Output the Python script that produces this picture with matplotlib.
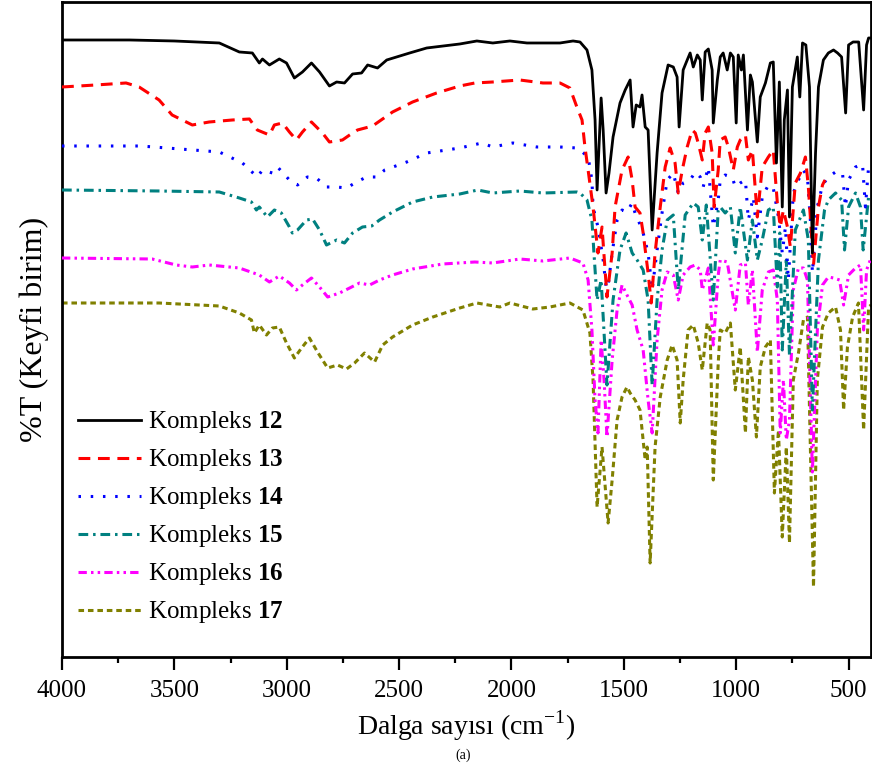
import matplotlib
matplotlib.use("Agg")
import matplotlib.pyplot as plt

plt.rcParams['font.family'] = ['Liberation Serif', 'DejaVu Serif']
plt.rcParams['mathtext.fontset'] = 'custom'
plt.rcParams['mathtext.rm'] = 'Liberation Serif'
plt.rcParams['mathtext.bf'] = 'Liberation Serif:bold'
plt.rcParams['lines.scale_dashes'] = False

# IR spectra, offset %T in arbitrary units
wn12 = [4000, 3700, 3500, 3300, 3211, 3153, 3122, 3108, 3077, 3033, 3001, 2966, 2930, 2890,
        2854, 2810, 2778, 2743, 2707, 2667, 2640, 2596, 2555, 2453, 2377, 2230, 2154, 2083,
        2007, 1931, 1784, 1726, 1695, 1664, 1642, 1628, 1619, 1601, 1592, 1579, 1566, 1548,
        1517, 1494, 1472, 1459, 1445, 1428, 1419, 1405, 1392, 1374, 1352, 1330, 1303, 1280,
        1263, 1254, 1236, 1218, 1205, 1191, 1173, 1160, 1151, 1138, 1124, 1107, 1102, 1084,
        1071, 1058, 1040, 1026, 1013, 1000, 991, 977, 968, 950, 937, 928, 906, 893, 870, 848,
        835, 821, 808, 795, 786, 772, 763, 750, 728, 717, 705, 690, 674, 661, 647, 634, 612,
        590, 567, 549, 531, 513, 500, 480, 455, 433, 420, 411, 400]
t12 = [617, 617, 616, 614, 605, 604, 594, 598, 592, 598, 594, 579, 585, 594,
       585, 571, 575, 574, 583, 584, 592, 589, 597, 604, 609, 613, 616, 614,
       616, 614, 614, 616, 615, 607, 587, 537, 467, 559, 527, 464, 484, 520,
       554, 567, 577, 530, 552, 550, 562, 530, 527, 427, 504, 564, 592, 590,
       580, 530, 587, 597, 604, 590, 602, 597, 557, 605, 608, 587, 534, 577,
       600, 604, 587, 604, 600, 534, 602, 587, 602, 527, 582, 575, 515, 560, 574, 594,
       595, 494, 575, 450, 537, 567, 440, 570, 600, 560, 614, 612, 570, 404, 504, 570, 597,
       604, 607, 604, 600, 544, 612, 615, 615, 547, 612, 619, 619]

wn13 = [4000, 3850, 3715, 3657, 3568, 3510, 3420, 3345, 3242, 3166, 3131, 3077, 3055, 3019,
        2988, 2957, 2930, 2890, 2841, 2810, 2752, 2720, 2685, 2618, 2529, 2440, 2333, 2230,
        2163, 2083, 1963, 1860, 1784, 1740, 1709, 1686, 1673, 1659, 1637, 1615, 1597, 1575,
        1552, 1539, 1508, 1481, 1463, 1450, 1428, 1414, 1392, 1378, 1361, 1338, 1316, 1294,
        1272, 1258, 1240, 1218, 1196, 1182, 1169, 1151, 1138, 1124, 1107, 1098, 1080, 1071,
        1049, 1035, 1013, 995, 982, 959, 946, 928, 906, 884, 857, 835, 817, 804, 790, 772,
        759, 737, 714, 692, 679, 656, 634, 616, 605]
t13 = [570, 572, 574, 570, 557, 542, 532, 535, 537, 538, 527, 522, 532, 534,
       525, 517, 525, 535, 524, 515, 517, 522, 527, 531, 545, 555, 564, 571,
       574, 575, 577, 574, 574, 569, 550, 537, 510, 487, 450, 404, 430, 360,
       404, 450, 487, 500, 477, 450, 444, 424, 384, 354, 404, 450, 490, 509,
       494, 464, 487, 510, 527, 524, 514, 497, 524, 530, 504, 450, 487, 517,
       520, 510, 487, 510, 517, 522, 497, 507, 440, 490, 500, 507, 454, 430, 447, 430,
       410, 474, 484, 500, 470, 392, 450, 472, 477]

wn14 = [4000, 3650, 3300, 3197, 3131, 3108, 3064, 3041, 2988, 2952, 2908, 2868, 2823, 2778,
        2734, 2689, 2645, 2600, 2564, 2466, 2377, 2230, 2132, 2083, 1994, 1887, 1784, 1709,
        1695, 1659, 1642, 1637, 1615, 1592, 1575, 1552, 1530, 1508, 1486, 1463, 1450, 1436,
        1414, 1392, 1374, 1352, 1330, 1307, 1280, 1258, 1236, 1205, 1182, 1160, 1147, 1124,
        1102, 1080, 1071, 1049, 1018, 1004, 982, 959, 946, 924, 906, 884, 857, 835, 812, 795,
        781, 768, 746, 723, 701, 683, 670, 661, 639, 616, 590, 558, 527, 514, 500, 469, 438,
        425, 411, 400]
t14 = [511, 511, 505, 494, 480, 487, 484, 490, 477, 472, 480, 479, 470, 470,
       469, 475, 480, 480, 487, 495, 504, 509, 514, 510, 514, 510, 510, 509,
       507, 500, 477, 450, 430, 397, 362, 404, 437, 447, 445, 454, 444, 437,
       424, 404, 367, 407, 444, 477, 484, 464, 474, 477, 485, 480, 470, 490,
       430, 457, 477, 482, 480, 470, 474, 477, 437, 460, 420, 460, 472, 469, 440, 404,
       430, 377, 464, 477, 487, 480, 437, 384, 450, 472, 480, 485, 484, 450, 477, 490, 493,
       450, 490, 492]

wn15 = [4000, 3568, 3300, 3211, 3157, 3135, 3122, 3086, 3055, 3024, 2988, 2975, 2952, 2912,
        2885, 2854, 2823, 2778, 2743, 2707, 2663, 2622, 2587, 2529, 2440, 2350, 2230, 2150,
        2083, 1963, 1860, 1709, 1695, 1664, 1642, 1633, 1619, 1601, 1575, 1548, 1517, 1490,
        1463, 1441, 1414, 1392, 1374, 1352, 1330, 1307, 1280, 1258, 1227, 1191, 1169, 1151,
        1133, 1102, 1080, 1071, 1049, 1026, 1004, 982, 950, 928, 906, 884, 857, 835, 817, 806,
        795, 777, 763, 737, 701, 679, 661, 634, 607, 590, 558, 531, 518, 500, 469, 447, 435,
        411, 400]
t15 = [467, 466, 465, 459, 455, 447, 450, 440, 447, 444, 430, 424, 427, 437,
       438, 427, 412, 417, 414, 424, 430, 431, 437, 445, 455, 460, 463, 467,
       464, 466, 464, 465, 464, 457, 437, 404, 357, 377, 272, 357, 407, 424,
       404, 397, 387, 357, 272, 357, 407, 437, 442, 367, 442, 454, 450, 417,
       452, 357, 447, 450, 444, 450, 404, 450, 397, 437, 397, 417, 447, 450, 370, 424,
       307, 397, 302, 427, 447, 417, 247, 397, 447, 457, 464, 457, 407, 450, 464, 450, 407,
       460, 462]

wn16 = [4000, 3599, 3492, 3420, 3345, 3211, 3122, 3077, 3033, 2988, 2957, 2930, 2890, 2854,
        2818, 2765, 2720, 2676, 2631, 2587, 2529, 2440, 2306, 2163, 2083, 1963, 1860, 1740,
        1682, 1659, 1642, 1628, 1615, 1601, 1588, 1575, 1552, 1530, 1508, 1486, 1463, 1441,
        1414, 1392, 1374, 1352, 1330, 1307, 1280, 1258, 1236, 1205, 1182, 1160, 1151, 1124,
        1102, 1080, 1071, 1040, 1004, 982, 959, 946, 928, 906, 884, 857, 835, 817, 804, 790,
        777, 763, 746, 723, 701, 683, 661, 639, 616, 590, 567, 540, 522, 500, 469, 447, 433,
        420, 400]
t16 = [399, 398, 392, 390, 392, 389, 382, 375, 381, 374, 367, 372, 379, 370,
       360, 364, 369, 374, 372, 377, 382, 388, 393, 395, 394, 398, 396, 399,
       394, 377, 327, 257, 224, 317, 277, 220, 297, 347, 372, 362, 352, 327,
       307, 257, 224, 317, 367, 385, 382, 357, 382, 390, 392, 387, 367, 389,
       312, 382, 397, 395, 347, 392, 394, 352, 387, 305, 367, 385, 387, 357, 224, 277,
       217, 237, 367, 389, 389, 377, 185, 327, 372, 380, 379, 377, 352, 382, 389, 392, 327,
       387, 399]

wn17 = [4000, 3568, 3300, 3211, 3157, 3144, 3122, 3090, 3064, 3033, 3001, 2966, 2934, 2899,
        2863, 2818, 2774, 2734, 2698, 2654, 2609, 2573, 2529, 2440, 2350, 2230, 2154, 2052,
        2007, 1905, 1829, 1740, 1682, 1651, 1637, 1619, 1597, 1570, 1552, 1530, 1508, 1486,
        1472, 1450, 1428, 1405, 1396, 1383, 1361, 1338, 1307, 1285, 1263, 1249, 1236, 1214,
        1191, 1169, 1151, 1129, 1116, 1102, 1080, 1071, 1049, 1026, 1004, 982, 959, 946, 928,
        910, 893, 870, 848, 830, 812, 795, 777, 763, 746, 723, 701, 683, 670, 656, 639, 616,
        590, 558, 536, 522, 505, 482, 456, 433, 411, 400]
t17 = [354, 354, 351, 344, 337, 324, 332, 322, 329, 330, 314, 299, 309, 319,
       305, 289, 292, 288, 294, 304, 295, 312, 320, 332, 340, 349, 354, 350,
       354, 348, 350, 354, 347, 324, 277, 150, 210, 134, 177, 237, 260, 270,
       264, 257, 247, 197, 210, 94, 210, 260, 297, 312, 297, 234, 277, 327,
       332, 314, 287, 334, 327, 177, 294, 327, 324, 334, 267, 310, 224, 300, 277,
       220, 290, 310, 317, 164, 227, 120, 210, 114, 277, 304, 337, 340, 210, 70, 277, 330,
       344, 350, 327, 247, 310, 340, 354, 227, 350, 352]

labels = ['Kompleks $\\mathbf{12}$', 'Kompleks $\\mathbf{13}$', 'Kompleks $\\mathbf{14}$',
          'Kompleks $\\mathbf{15}$', 'Kompleks $\\mathbf{16}$', 'Kompleks $\\mathbf{17}$']

fig = plt.figure(figsize=(8.72, 7.63), dpi=100)
ax = fig.add_axes([0.0711, 0.1389, 0.9278, 0.8585])

ax.plot(wn12, t12, color='black', lw=2.0, label=labels[0], zorder=7)
ax.plot(wn13, t13, color='#ff0000', lw=2.2, dashes=(8.5, 5.5), label=labels[1], zorder=6)
ax.plot(wn14, t14, color='#0000ff', lw=2.2, dashes=(1.8, 7), label=labels[2], zorder=5)
ax.plot(wn15, t15, color='#008080', lw=2.2, dashes=(7, 3.5, 1.8, 3.5), label=labels[3], zorder=4)
ax.plot(wn16, t16, color='#ff00ff', lw=2.2, dashes=(6, 3, 1.8, 3, 1.8, 3), label=labels[4], zorder=3)
ax.plot(wn17, t17, color='#808000', lw=2.2, dashes=(4, 2.8), label=labels[5], zorder=2)

ax.set_xlim(4000, 400)
ax.set_ylim(0, 655)
ax.set_xticks([4000, 3500, 3000, 2500, 2000, 1500, 1000, 500])
ax.set_xticks([3750, 3250, 2750, 2250, 1750, 1250, 750], minor=True)
ax.set_yticks([])
ax.tick_params(axis='x', which='major', direction='out', length=9.5, width=1.6,
               labelsize=18, pad=7)
ax.tick_params(axis='x', which='minor', direction='out', length=4.5, width=1.6)
for s in ax.spines.values():
    s.set_linewidth(2.0)

ax.set_xlabel('Dalga sayısı (cm$^{\\mathrm{-1}}$)', fontsize=20, labelpad=5)
ax.set_ylabel('%T (Keyfi birim)', fontsize=23, labelpad=9)

ax.legend(loc='upper left', bbox_to_anchor=(0.0198, 0.378), frameon=False,
          fontsize=18, handlelength=2.5, handletextpad=0.28, labelspacing=0.48,
          borderaxespad=0, borderpad=0)

fig.text(0.531, 0.001, '(a)', fontsize=10, ha='center', va='bottom')

fig.savefig('out.png', dpi=100)
